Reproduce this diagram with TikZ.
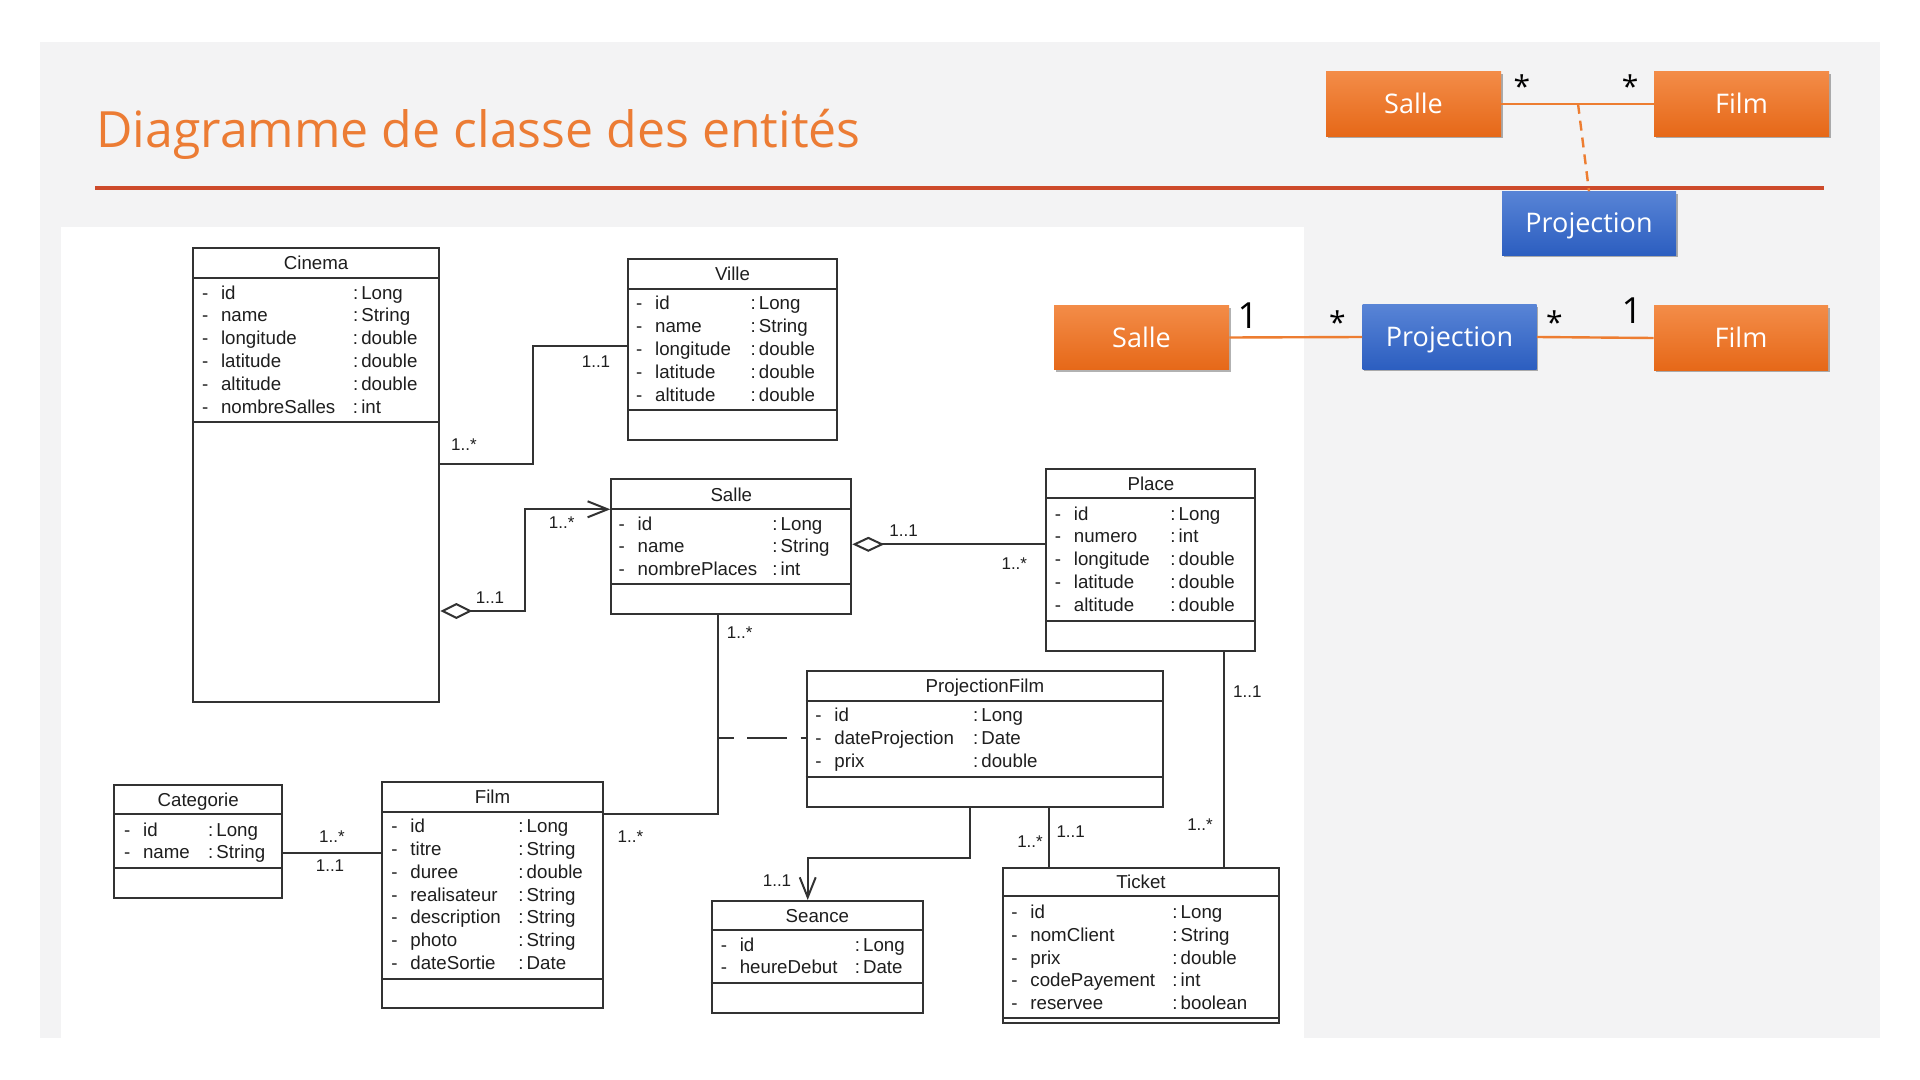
\documentclass[tikz,border=0pt]{standalone}
\usepackage{fontspec}
\usepackage{array}
\setmainfont{Liberation Sans}
\newfontfamily\slidefont{Open Sans}
\usetikzlibrary{fit,shadows,arrows.meta}

\definecolor{slidebg}{RGB}{243,243,244}
\definecolor{titleor}{RGB}{236,124,52}
\definecolor{rulered}{RGB}{205,74,42}
\definecolor{orTop}{RGB}{243,140,72}
\definecolor{orBot}{RGB}{230,104,24}
\definecolor{blTop}{RGB}{88,132,214}
\definecolor{blBot}{RGB}{44,94,192}
\definecolor{linkor}{RGB}{237,125,49}
\definecolor{umlgray}{RGB}{50,50,50}
\definecolor{umltext}{RGB}{30,30,30}

\newcommand{\umlfont}{\fontsize{9.35pt}{11.4pt}\selectfont}

% class frame: name, title, x1, y1, x2, y2, header line y, attribute line y
\newcommand{\umlclass}[8]{%
  \node[umlbox, fit={(#3,#4) (#5,#6)}] (#1) {};
  \draw[umlsep] (#1.west |- 0,#7) -- (#1.east |- 0,#7)
                (#1.west |- 0,#8) -- (#1.east |- 0,#8);
  \path (#3,#4) -- (#5,#7) node[umltitle, midway] (#1-title) {#2};
}
% attribute block: name, left x, first row y, name column width, rows
\newcommand{\umlattrs}[5]{%
  \node[umlattr, anchor=base west] (#1) at (#2,{#3+6.7})
    {\begin{tabular}[t]{@{}p{9.5pt}@{}p{#4}@{}l@{}}#5\end{tabular}};
}

\begin{document}
\begin{tikzpicture}[x=0.5pt,y=-0.5pt,
  umlbox/.style={draw=umlgray, line width=1pt, inner sep=0pt, fill=white},
  umlsep/.style={draw=umlgray, line width=1pt},
  umltitle/.style={inner sep=0pt, font=\umlfont, text=umltext, text height=6.7pt, text depth=0pt},
  umlattr/.style={inner sep=0pt, font=\umlfont, text=umltext},
  umlline/.style={draw=umlgray, line width=1pt},
  mult/.style={inner sep=0pt, font=\fontsize{8.5pt}{10pt}\selectfont, text=umltext, text height=6.1pt, text depth=0pt},
  slidebox/.style={inner sep=0pt, text=white, font=\slidefont\fontsize{13.5pt}{16pt}\selectfont,
    text height=9.6pt, text depth=0pt, minimum width=87.5pt, minimum height=32.2pt,
    drop shadow={shadow xshift=0.8pt, shadow yshift=-1.2pt, opacity=0.3, fill=black}},
  orangebox/.style={slidebox, top color=orTop, bottom color=orBot},
  bluebox/.style={slidebox, top color=blTop, bottom color=blBot},
  slidelink/.style={draw=linkor, line width=1.2pt},
  slidemult/.style={inner sep=0pt, text=black, font=\slidefont\fontsize{15pt}{18pt}\selectfont},
  slideone/.style={inner sep=0pt, text=black, font=\slidefont\fontsize{18pt}{21pt}\selectfont}
]
\useasboundingbox (0,0) rectangle (1920,1080);
\fill[white] (0,0) rectangle (1920,1080);
\fill[slidebg] (40,42) rectangle (1880,1038);
\fill[white] (61,227) rectangle (1304,1038);

% heading
\node[inner sep=0pt, anchor=base west, text=titleor, font=\slidefont\fontsize{25pt}{30pt}\selectfont]
  (title) at (96,147.3) {Diagramme de classe des entités};
\draw[rulered, line width=2pt] (95,187.7) -- (1824,187.7);

% association class sketch
\node[orangebox] (salleA) at (1413.5,103.85) {Salle};
\node[orangebox] (filmA) at (1741.5,103.85) {Film};
\node[bluebox, minimum width=87pt, minimum height=31.7pt] (projA) at (1589,223.35) {Projection};
\draw[slidelink] (salleA.east) -- (filmA.west);
\coordinate (linkA) at (1578,103.8);
\draw[slidelink, dash pattern=on 5pt off 3.5pt] (linkA) -- (projA.north);
\node[slidemult, anchor=north] (mA1) at (1522,74) {*};
\node[slidemult, anchor=north] (mA2) at (1630,74) {*};

% same relation with an intermediate entity
\node[orangebox] (salleB) at (1141.5,337.5) {Salle};
\node[bluebox, minimum width=87pt, minimum height=32pt] (projB) at (1449.5,337) {Projection};
\node[orangebox, minimum width=87pt, minimum height=32pt] (filmB) at (1741,338) {Film};
\draw[slidelink] (salleB.east) -- (projB.west);
\draw[slidelink] (projB.east) -- (filmB.west);
\node[slideone] (mB1) at (1248,316) {1};
\node[slidemult, anchor=north] (mB2) at (1337.5,310) {*};
\node[slidemult, anchor=north] (mB3) at (1554.3,310) {*};
\node[slideone] (mB4) at (1632,310.7) {1};

% ---------- class diagram ----------
\umlclass{cinema}{Cinema}{193}{248.3}{439.3}{701.7}{278.3}{422.3}
\umlattrs{cinema-attrs}{201.6}{292.5}{66pt}{%
  - & id & :\,Long\\ - & name & :\,String\\ - & longitude & :\,double\\
  - & latitude & :\,double\\ - & altitude & :\,double\\ - & nombreSalles & :\,int}

\umlclass{ville}{Ville}{628}{259}{837}{440.3}{288.7}{410.3}
\umlattrs{ville-attrs}{635.7}{303.3}{47.75pt}{%
  - & id & :\,Long\\ - & name & :\,String\\ - & longitude & :\,double\\
  - & latitude & :\,double\\ - & altitude & :\,double}

\umlclass{salle}{Salle}{611.3}{479.3}{851.3}{614.3}{509.3}{584.3}
\umlattrs{salle-attrs}{618.3}{523.3}{67.35pt}{%
  - & id & :\,Long\\ - & name & :\,String\\ - & nombrePlaces & :\,int}

\umlclass{place}{Place}{1046.4}{469}{1255.4}{650.7}{498.3}{620.7}
\umlattrs{place-attrs}{1054.5}{513.3}{48.25pt}{%
  - & id & :\,Long\\ - & numero & :\,int\\ - & longitude & :\,double\\
  - & latitude & :\,double\\ - & altitude & :\,double}

\umlclass{pf}{ProjectionFilm}{806.6}{671.3}{1163.3}{807}{700.8}{777.3}
\umlattrs{pf-attrs}{815}{715}{69.35pt}{%
  - & id & :\,Long\\ - & dateProjection & :\,Date\\ - & prix & :\,double}

\umlclass{seance}{Seance}{711.6}{901}{923.2}{1012.7}{930}{983.3}
\umlattrs{seance-attrs}{720.4}{944.3}{57.5pt}{%
  - & id & :\,Long\\ - & heureDebut & :\,Date}

\umlclass{ticket}{Ticket}{1003}{868}{1279}{1023.3}{896}{1017.7}
\umlattrs{ticket-attrs}{1011}{911.7}{71pt}{%
  - & id & :\,Long\\ - & nomClient & :\,String\\ - & prix & :\,double\\
  - & codePayement & :\,int\\ - & reservee & :\,boolean}

\umlclass{categorie}{Categorie}{114.3}{785.3}{282}{897.7}{814.3}{867.7}
\umlattrs{categorie-attrs}{123.7}{829.3}{32.5pt}{%
  - & id & :\,Long\\ - & name & :\,String}

\umlclass{film}{Film}{382.1}{782.3}{602.9}{1008.3}{812}{979}
\umlattrs{film-attrs}{391}{826}{54pt}{%
  - & id & :\,Long\\ - & titre & :\,String\\ - & duree & :\,double\\
  - & realisateur & :\,String\\ - & description & :\,String\\
  - & photo & :\,String\\ - & dateSortie & :\,Date}

% associations
\draw[umlline] (cinema.east |- 0,464.3) -| (533.4,346) -- (ville.west |- 0,346);
\node[mult] (m1) at (464,444) {1..*};
\node[mult] (m2) at (596,361.7) {1..1};

\draw[umlline, {Diamond[open,length=16pt,width=8pt]}-{Straight Barb[length=10pt,width=8pt]}]
  (cinema.east |- 0,611) -| (524.8,509.3) -- (salle.west |- 0,509.3);
\node[mult] (m3) at (490,597.7) {1..1};
\node[mult] (m4) at (561.6,522.7) {1..*};

\draw[umlline, {Diamond[open,length=16pt,width=7.5pt]}-] (salle.east |- 0,544.3) -- (place.west |- 0,544.3);
\node[mult] (m5) at (903.6,530) {1..1};
\node[mult] (m6) at (1014.3,563.3) {1..*};

\draw[umlline] (place.south -| 1223.5,0) -- (ticket.north -| 1223.5,0);
\node[mult] (m7) at (1247.4,691.7) {1..1};
\node[mult] (m8) at (1200,824.5) {1..*};

\draw[umlline] (salle.south -| 718.3,0) |- (film.east |- 0,814);
\node[mult] (m9) at (739.7,632.3) {1..*};
\node[mult] (m10) at (630.4,836.7) {1..*};

\coordinate (pfassoc) at (718.3,738.3);
\draw[umlline, dash pattern=on 20pt off 6.7pt, dash phase=12.2pt] (pfassoc) -- (pf.west |- pfassoc);

\draw[umlline, -{Straight Barb[length=10pt,width=8pt]}]
  (pf.south -| 969.8,0) |- (807.7,858.3) -- (seance.north -| 807.7,0);
\node[mult] (m11) at (777,880) {1..1};

\draw[umlline] (pf.south -| 1048.5,0) -- (ticket.north -| 1048.5,0);
\node[mult] (m12) at (1030,841) {1..*};
\node[mult] (m13) at (1070.7,831.7) {1..1};

\draw[umlline] (categorie.east |- 0,852.7) -- (film.west |- 0,852.7);
\node[mult] (m14) at (332,836.7) {1..*};
\node[mult] (m15) at (330,865.7) {1..1};
\end{tikzpicture}
\end{document}
